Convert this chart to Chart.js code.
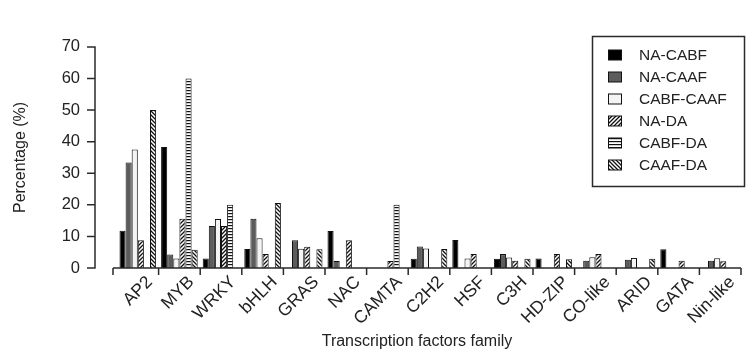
<!DOCTYPE html>
<html><head><meta charset="utf-8">
<script src="https://cdn.jsdelivr.net/npm/chart.js@4.4.1/dist/chart.umd.min.js"></script>
<style>html,body{margin:0;padding:0;background:#fff;}</style>
</head><body>
<canvas id="c" width="747" height="352"></canvas>
<script>
const categories = ['AP2','MYB','WRKY','bHLH','GRAS','NAC','CAMTA','C2H2','HSF','C3H','HD-ZIP','CO-like','ARID','GATA','Nin-like'];
const seriesNames = ['NA-CABF','NA-CAAF','CABF-CAAF','NA-DA','CABF-DA','CAAF-DA'];
const naCabf   = [11.8, 38.3, 3.0, 6.0, 0,   11.7, 0,    2.9, 8.9, 2.9, 3.0, 0,   0,   5.9, 0];
const naCaaf   = [33.4, 4.3, 13.3, 15.6, 8.8, 2.2, 0,    6.8, 0,   4.4, 0,   2.3, 2.6, 0,   2.3];
const cabfCaaf = [37.5, 3.0, 15.5, 9.4, 6.1, 0,   0,    6.2, 3.0, 3.3, 0,   3.4, 3.2, 0,   3.1];
const naDa     = [8.8, 15.6, 13.3, 4.4, 6.7, 8.8, 2.2,  0,   4.4, 2.3, 4.4, 4.4, 0,   2.3, 2.1];
const cabfDa   = [0,   60.0, 20.0, 0,   0,   0,   20.0, 0,   0,   0,   0,   0,   0,   0,   0];
const caafDa   = [50.0, 5.8, 0,   20.6, 5.9, 0,   0,    6.0, 0,   2.9, 2.8, 0,   2.9, 0,   0];
const yTicks = [0,10,20,30,40,50,60,70];
const xTitle = 'Transcription factors family';
const yTitle = 'Percentage (%)';

const FAM = '"Liberation Sans", Arial, Helvetica, sans-serif';
const TXT = '#222';

function pattern(kind){
  const s = kind==='h' ? 3 : 4;
  const c = document.createElement('canvas'); c.width = s; c.height = s;
  const g = c.getContext('2d');
  g.fillStyle = '#fff'; g.fillRect(0,0,s,s);
  g.strokeStyle = '#111'; g.fillStyle = '#111'; g.lineWidth = 1.3;
  if(kind==='h'){ g.fillRect(0,0,s,1.2); }
  else if(kind==='/'){
    g.beginPath(); g.moveTo(-1,s+1); g.lineTo(s+1,-1);
    g.moveTo(-1,1); g.lineTo(1,-1); g.moveTo(s-1,s+1); g.lineTo(s+1,s-1); g.stroke();
  } else {
    g.beginPath(); g.moveTo(-1,-1); g.lineTo(s+1,s+1);
    g.moveTo(-1,s-1); g.lineTo(1,s+1); g.moveTo(s-1,-1); g.lineTo(s+1,1); g.stroke();
  }
  return g.createPattern(c,'repeat');
}
const fills = ['#000000','#5c5c5c','#f4f4f4',pattern('/'),pattern('h'),pattern('\\')];
const seriesData = [naCabf,naCaaf,cabfCaaf,naDa,cabfDa,caafDa];

const axesPlugin = {
  id:'axes',
  afterDraw(chart){
    const {ctx, chartArea, scales:{x,y}} = chart;
    ctx.save();
    ctx.strokeStyle = '#2a2a2a'; ctx.lineWidth = 1.5;
    const ax = chartArea.left - 22;
    const y0 = y.getPixelForValue(0), yTop = y.getPixelForValue(70);
    ctx.beginPath();
    ctx.moveTo(ax, yTop); ctx.lineTo(ax, y0);
    yTicks.forEach(v=>{const p=y.getPixelForValue(v); ctx.moveTo(ax-8,p); ctx.lineTo(ax+0.7,p);});
    const xs = chartArea.left - 4;
    ctx.moveTo(xs, y0); ctx.lineTo(chartArea.right, y0);
    ctx.moveTo(xs, y0); ctx.lineTo(xs, y0+7);
    const half = (x.getPixelForValue(1)-x.getPixelForValue(0))/2;
    for(let i=0;i<categories.length;i++){
      const b = x.getPixelForValue(i)+half;
      ctx.moveTo(b,y0); ctx.lineTo(b,y0+7);
    }
    ctx.stroke();
    ctx.font = '16px '+FAM;
    ctx.fillStyle = TXT; ctx.textAlign='center'; ctx.textBaseline='middle';
    ctx.fillText(xTitle, (chartArea.left+chartArea.right)/2 - 12, 342);
    ctx.restore();
  }
};

const legendPlugin = {
  id:'boxLegend',
  afterDraw(chart){
    const {ctx} = chart;
    ctx.save();
    const bx=592.5, by=36.5, bw=152, bh=150;
    ctx.strokeStyle='#2a2a2a'; ctx.lineWidth=1.5;
    ctx.strokeRect(bx,by,bw,bh);
    ctx.font = '15.5px '+FAM;
    ctx.textBaseline='middle'; ctx.fillStyle=TXT;
    chart.data.datasets.forEach((ds,i)=>{
      const cy = 55 + i*22;
      ctx.fillStyle = ds.backgroundColor;
      ctx.fillRect(608.5, cy-5, 13, 10);
      ctx.strokeStyle='#111'; ctx.lineWidth=1;
      ctx.strokeRect(608.5, cy-5, 13, 10);
      ctx.fillStyle=TXT;
      ctx.fillText(ds.label, 639, cy+1);
    });
    ctx.restore();
  }
};

new Chart(document.getElementById('c'), {
  type:'bar',
  data:{
    labels:categories,
    datasets: seriesNames.map((n,i)=>({
      label:n, data:seriesData[i], backgroundColor:fills[i],
      borderColor:'#111', borderWidth:1, categoryPercentage:0.88, barPercentage:1
    }))
  },
  options:{
    responsive:false, animation:false, devicePixelRatio:1,
    layout:{padding:{top:19,right:6,bottom:2,left:0}},
    plugins:{legend:{display:false}, tooltip:{enabled:false}},
    scales:{
      x:{
        grid:{display:false, drawTicks:false}, border:{display:false},
        ticks:{font:{family:FAM,size:17.5}, color:TXT, maxRotation:45, minRotation:45, labelOffset:12, padding:4, autoSkip:false},
        title:{display:false},
        afterFit(s){ s.height = 82; }
      },
      y:{
        min:0, max:70,
        grid:{display:false, drawTicks:false}, border:{display:false},
        ticks:{stepSize:10, font:{family:FAM,size:16.5}, color:TXT, padding:37},
        title:{display:true, text:yTitle, font:{family:FAM,size:16}, color:TXT, padding:{top:11,bottom:0}},
        afterFit(s){ s.width = 117; }
      }
    }
  },
  plugins:[axesPlugin, legendPlugin]
});
</script>
</body></html>
